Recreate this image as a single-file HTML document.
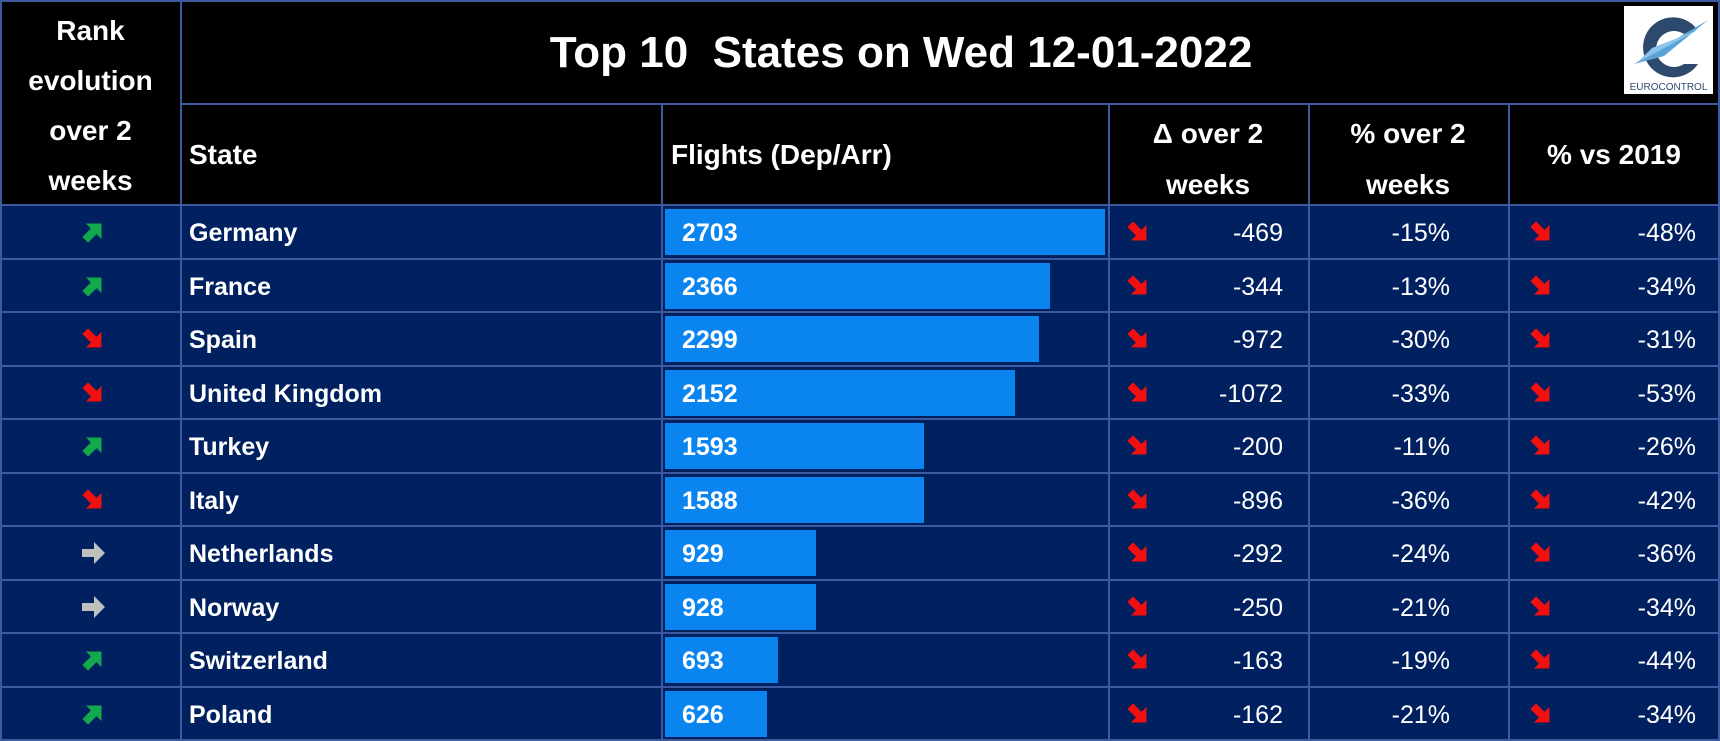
<!DOCTYPE html>
<html><head><meta charset="utf-8"><style>
*{margin:0;padding:0;box-sizing:border-box}
body{width:1720px;height:741px;background:#002060;overflow:hidden;font-family:"Liberation Sans",sans-serif;color:#fff;position:relative}
.a{position:absolute}
.hl{position:absolute;background:#3b5aa0;height:2px}
.vl{position:absolute;background:#3b5aa0;width:2px}
.t{position:absolute;white-space:nowrap;font-weight:bold}
.n{position:absolute;white-space:nowrap;font-size:25px;text-align:right}
.bar{position:absolute;left:665px;background:#0a85ef;height:46px}
</style></head><body>
<div class="a" style="left:0;top:0;width:1720px;height:205px;background:#000"></div>
<svg class="a" style="left:1624px;top:6px" width="89" height="88" viewBox="0 0 89 88">
<rect width="89" height="88" fill="#fff"/>
<path d="M72 22 A30 30 0 1 0 74 58 L60 58 A18 18 0 1 1 60 28 Z" fill="#2d4a6e"/>
<polygon points="10,58 84,14 40,50" fill="#5aa3d6"/>
<polygon points="14,56 74,24 28,42" fill="#8cc4ea"/>
<text x="44.5" y="84" font-size="10" text-anchor="middle" fill="#2d4a6e" font-family="Liberation Sans">EUROCONTROL</text>
</svg>
<div class="t" style="left:0;width:181px;top:6px;text-align:center;font-size:28px;line-height:50px">Rank<br>evolution<br>over 2<br>weeks</div>
<div class="t" style="left:181px;width:1440px;top:28px;text-align:center;font-size:44px">Top 10&nbsp; States on Wed 12-01-2022</div>
<div class="t" style="left:189px;top:139px;font-size:28px">State</div>
<div class="t" style="left:671px;top:139px;font-size:28px">Flights (Dep/Arr)</div>
<div class="t" style="left:1108px;width:200px;top:108px;text-align:center;font-size:28px;line-height:51px">&Delta; over 2<br>weeks</div>
<div class="t" style="left:1308px;width:200px;top:108px;text-align:center;font-size:28px;line-height:51px">% over 2<br>weeks</div>
<div class="t" style="left:1508px;width:212px;top:139px;text-align:center;font-size:28px">% vs 2019</div>
<div id="rows"></div>
<script>
var d=[["Germany",2703,-469,-15,-48,"u"],["France",2366,-344,-13,-34,"u"],["Spain",2299,-972,-30,-31,"d"],["United Kingdom",2152,-1072,-33,-53,"d"],["Turkey",1593,-200,-11,-26,"u"],["Italy",1588,-896,-36,-42,"d"],["Netherlands",929,-292,-24,-36,"r"],["Norway",928,-250,-21,-34,"r"],["Switzerland",693,-163,-19,-44,"u"],["Poland",626,-162,-21,-34,"u"]];
function arr(t,cx,cy){
 var c=t=="u"?"#14a84c":t=="d"?"#f01010":"#c0c0c0";
 var r=t=="u"?-45:t=="d"?45:0;
 return '<svg class="a" style="left:'+(cx-13)+'px;top:'+(cy-13)+'px" width="26" height="26" viewBox="-13 -13 26 26"><g transform="rotate('+r+')"><polygon points="-11,-4 1,-4 1,-11 12,0 1,11 1,4 -11,4" fill="'+c+'"/></g></svg>';
}
var h='';
for(var i=0;i<10;i++){
 var y=205+i*53.5, cy=y+27, r=d[i];
 h+='<div class="bar" style="top:'+(y+4)+'px;width:'+Math.round(r[1]*0.1628)+'px"></div>';
 h+=arr(r[5],93,cy);
 h+='<div class="t" style="left:189px;top:'+(cy-13)+'px;font-size:25px">'+r[0]+'</div>';
 h+='<div class="t" style="left:682px;top:'+(cy-13)+'px;font-size:25px">'+r[1]+'</div>';
 h+=arr("d",1138,cy)+arr("d",1541,cy);
 h+='<div class="n" style="right:'+(1720-1283)+'px;top:'+(cy-13)+'px">'+r[2]+'</div>';
 h+='<div class="n" style="right:'+(1720-1450)+'px;top:'+(cy-13)+'px">'+r[3]+'%</div>';
 h+='<div class="n" style="right:'+(1720-1696)+'px;top:'+(cy-13)+'px">'+r[4]+'%</div>';
 if(i>0)h+='<div class="hl" style="left:0;width:1720px;top:'+(y-1)+'px"></div>';
}
h+='<div class="hl" style="left:0;width:1720px;top:0"></div>';
h+='<div class="hl" style="left:181px;width:1539px;top:103px"></div>';
h+='<div class="hl" style="left:0;width:1720px;top:204px"></div>';
h+='<div class="hl" style="left:0;width:1720px;top:739px"></div>';
h+='<div class="vl" style="left:0;top:0;height:741px"></div>';
h+='<div class="vl" style="left:1718px;top:0;height:741px"></div>';
h+='<div class="vl" style="left:180px;top:0;height:741px"></div>';
[661,1108,1308,1508].forEach(function(x){h+='<div class="vl" style="left:'+x+'px;top:103px;height:638px"></div>'});
document.getElementById('rows').innerHTML=h;
</script>
</body></html>
